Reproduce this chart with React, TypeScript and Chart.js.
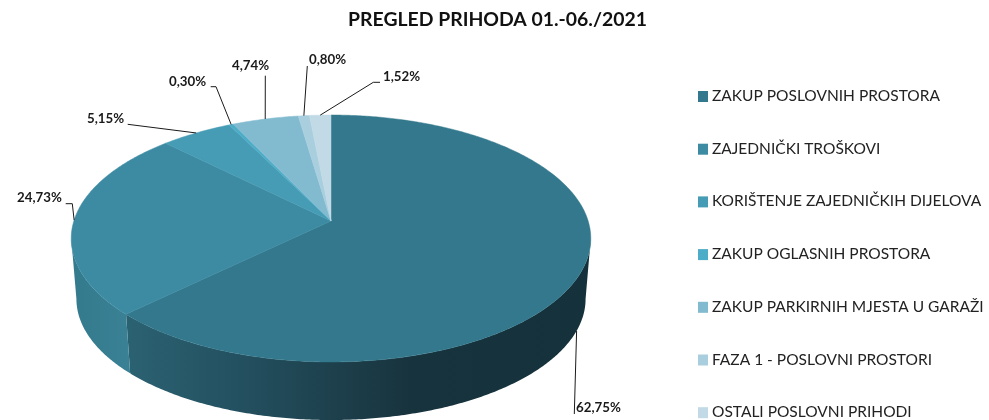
import React, { useEffect, useRef } from "react";
import { Chart, registerables } from "chart.js";

Chart.register(...registerables);

const TITLE = "PREGLED PRIHODA 01.-06./2021";
const categories = [
  "ZAKUP POSLOVNIH PROSTORA",
  "ZAJEDNIČKI TROŠKOVI",
  "KORIŠTENJE ZAJEDNIČKIH DIJELOVA",
  "ZAKUP OGLASNIH PROSTORA",
  "ZAKUP PARKIRNIH MJESTA U GARAŽI",
  "FAZA 1 - POSLOVNI PROSTORI",
  "OSTALI POSLOVNI PRIHODI",
];
const shares = [62.75, 24.73, 5.15, 0.3, 4.74, 0.8, 1.52];
const colours = ["#33788c", "#3d8ba3", "#469cb5", "#4dacc7", "#82bacf", "#a9cfdf", "#c1dae5"];

// Leader layout: label text position (left, middle), then elbow points toward the label.
const leaderText = [
  [576, 408], [17, 198], [87, 119], [169, 82], [232, 66], [309, 60], [383, 77],
];
const leaderElbows = [
  [[574.3, 414]],
  [[72.3, 203.7], [65.7, 203.7]],
  [[127.7, 124.3]],
  [[216, 86.7], [210.7, 86.7]],
  [[265.3, 75.7]],
  [[307.3, 66]],
  [[373.3, 82.3], [380, 82.3]],
];

const FONT = "Lato, 'Open Sans', sans-serif";
const TITLE_FONT_SIZE = 19.4;
const TITLE_X = 497.5;
const TITLE_Y = 20;
const LEGEND_FONT_SIZE = 15.5;
const LABEL_FONT_SIZE = 13.3;
const LEGEND_BOX_X = 698;
const LEGEND_TEXT_X = 712;
const LEGEND_Y0 = 96;
const LEGEND_STEP = 52.7;

// Perspective of the tilted disc, relative to the pie's own radius.
const TILT = 0.1417;
const RX = 1.39;
const RY = 0.654;
const BASE_SCALE = 0.98;
const BASE_DROP = 0.329;

function project(arc: any, angle: number, base = false) {
  const r = arc.outerRadius;
  const u = Math.cos(angle);
  const v = Math.sin(angle);
  const w = 1 - TILT * v;
  const s = base ? BASE_SCALE : 1;
  return {
    x: arc.x + (s * RX * r * u) / w,
    y: arc.y + (base ? BASE_DROP * r : 0) + (s * RY * r * v) / w,
  };
}

function rimPoints(arc: any, a0: number, a1: number, base = false) {
  const n = Math.max(2, Math.ceil(Math.abs(a1 - a0) / 0.01));
  const pts = [];
  for (let i = 0; i <= n; i++) pts.push(project(arc, a0 + ((a1 - a0) * i) / n, base));
  return pts;
}

const sideStops: Record<number, [number, string][]> = {
  0: [[0, "#2b6272"], [0.22, "#245262"], [0.46, "#1d3f4b"], [0.62, "#17333d"], [1, "#15313b"]],
  1: [[0, "#347a8d"], [1, "#3a8195"]],
};

const pie3d = {
  id: "pie3d",
  beforeDatasetsDraw(chart: any) {
    const ctx = chart.ctx;
    const arcs = chart.getDatasetMeta(0).data;
    // The wall's silhouette runs between the disc's widest points.
    const frontStart = Math.asin(TILT);
    const frontEnd = Math.PI - Math.asin(TILT);
    ctx.save();
    // Outer wall of the slices facing the viewer.
    arcs.forEach((arc: any, i: number) => {
      const a0 = Math.max(arc.startAngle, frontStart);
      const a1 = Math.min(arc.endAngle, frontEnd);
      if (a1 <= a0) return;
      const top = rimPoints(arc, a0, a1);
      const bottom = rimPoints(arc, a1, a0, true);
      const xs = top.concat(bottom).map((p) => p.x);
      const g = ctx.createLinearGradient(Math.min(...xs), 0, Math.max(...xs), 0);
      const stops = sideStops[i] || [[0, colours[i]], [1, colours[i]]];
      stops.forEach(([o, c]: [number, string]) => g.addColorStop(o, c));
      ctx.beginPath();
      top.concat(bottom).forEach((p, k) => (k ? ctx.lineTo(p.x, p.y) : ctx.moveTo(p.x, p.y)));
      ctx.closePath();
      ctx.fillStyle = g;
      ctx.fill();
    });
    // Top surface.
    arcs.forEach((arc: any, i: number) => {
      const pts = rimPoints(arc, arc.startAngle, arc.endAngle);
      ctx.beginPath();
      ctx.moveTo(arc.x, arc.y);
      pts.forEach((p) => ctx.lineTo(p.x, p.y));
      ctx.closePath();
      ctx.fillStyle = colours[i];
      ctx.strokeStyle = colours[i];
      ctx.lineWidth = 0.5;
      ctx.fill();
      ctx.stroke();
    });
    // Leaders and value labels.
    ctx.font = `bold ${LABEL_FONT_SIZE}px ${FONT}`;
    ctx.textBaseline = "middle";
    ctx.textAlign = "left";
    arcs.forEach((arc: any, i: number) => {
      const mid = (arc.startAngle + arc.endAngle) / 2;
      const start = project(arc, mid, i === 0);
      ctx.beginPath();
      ctx.moveTo(start.x, start.y);
      leaderElbows[i].forEach(([x, y]) => ctx.lineTo(x, y));
      ctx.strokeStyle = "#1a1a1a";
      ctx.lineWidth = 1;
      ctx.stroke();
      ctx.fillStyle = "#1a1a1a";
      const label = shares[i].toFixed(2).replace(".", ",") + "%";
      ctx.fillText(label, leaderText[i][0], leaderText[i][1]);
    });
    // Legend.
    ctx.font = `${LEGEND_FONT_SIZE}px ${FONT}`;
    chart.data.labels.forEach((label: string, i: number) => {
      const y = LEGEND_Y0 + i * LEGEND_STEP;
      ctx.fillStyle = colours[i];
      ctx.fillRect(LEGEND_BOX_X, y - 5, 10, 11);
      ctx.fillStyle = "#222222";
      ctx.fillText(label, LEGEND_TEXT_X, y);
    });
    // Title.
    ctx.font = `bold ${TITLE_FONT_SIZE}px ${FONT}`;
    ctx.textAlign = "center";
    ctx.fillStyle = "#111111";
    ctx.fillText(TITLE, TITLE_X, TITLE_Y);
    ctx.restore();
    return false;
  },
};

export default function App() {
  const ref = useRef<HTMLCanvasElement>(null);
  useEffect(() => {
    const chart = new Chart(ref.current!, {
      type: "pie",
      data: {
        labels: categories,
        datasets: [{ data: shares, backgroundColor: colours, borderWidth: 0 }],
      },
      options: {
        animation: false,
        responsive: false,
        layout: { padding: { left: 6, right: 333, top: 36, bottom: 14 } },
        plugins: {
          legend: { display: false },
          tooltip: { enabled: false },
          title: { display: false },
        },
      },
      plugins: [pie3d],
    } as any);
    return () => chart.destroy();
  }, []);
  return (
    <div style={{ position: "absolute", left: 0, top: 0, width: 989, height: 420, overflow: "hidden", background: "#fff" }}>
      <canvas ref={ref} width={989} height={420} style={{ display: "block" }} />
    </div>
  );
}
